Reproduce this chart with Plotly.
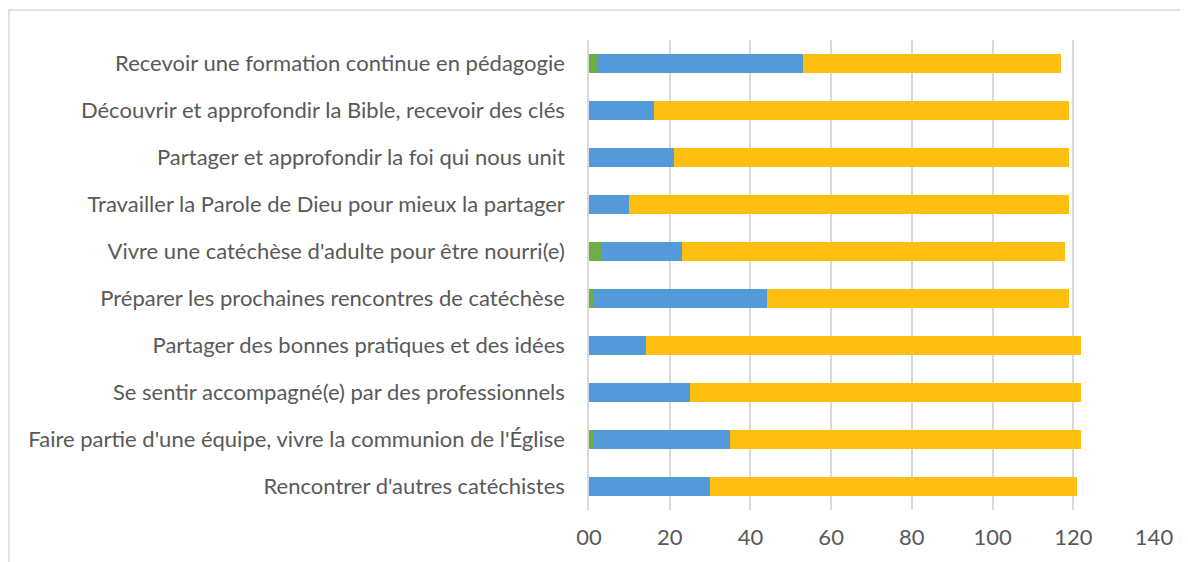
import plotly.graph_objects as go

categories = [
    "Recevoir une formation continue en pédagogie",
    "Découvrir et approfondir la Bible, recevoir des clés",
    "Partager et approfondir la foi qui nous unit",
    "Travailler la Parole de Dieu pour mieux la partager",
    "Vivre une catéchèse d'adulte pour être nourri(e)",
    "Préparer les prochaines rencontres de catéchèse",
    "Partager des bonnes pratiques et des idées",
    "Se sentir accompagné(e) par des professionnels",
    "Faire partie d'une équipe, vivre la communion de l'Église",
    "Rencontrer d'autres catéchistes",
]
green_vals = [2, 0, 0, 0, 3, 1, 0, 0, 1, 0]
blue_vals = [51, 16, 21, 10, 20, 43, 14, 25, 34, 30]
yellow_vals = [64, 103, 98, 109, 95, 75, 108, 97, 87, 91]

tick_vals = [0, 20, 40, 60, 80, 100, 120, 140]
tick_text = ["00", "20", "40", "60", "80", "100", "120", "140"]

FONT = "Lato"
TXT = "#595959"

fig = go.Figure()
for vals, col in [(green_vals, "#70ad47"), (blue_vals, "#5499d8"), (yellow_vals, "#fdc010")]:
    fig.add_trace(go.Bar(y=categories, x=vals, orientation="h",
                         marker=dict(color=col, line=dict(width=0)),
                         hoverinfo="x+y"))

# page body has an 8px offset
W, H = 1180, 554
L, R, T, B = 581, 34, 32, 52
pw, ph = W - L - R, H - T - B

fig.update_layout(
    width=W, height=H, barmode="stack", bargap=0.575,
    showlegend=False,
    paper_bgcolor="white", plot_bgcolor="white",
    margin=dict(l=L, r=R, t=T, b=B, autoexpand=False),
    font=dict(family=FONT, size=22, color=TXT),
    xaxis=dict(range=[0, 140], tickvals=tick_vals, ticktext=tick_text,
               showgrid=True, gridcolor="#d9d9d9", gridwidth=1.5,
               zeroline=False, showline=False, ticks="",
               tickfont=dict(family=FONT, size=22, color=TXT),
               ticklabelstandoff=12),
    yaxis=dict(autorange="reversed", showgrid=False, zeroline=False,
               showline=True, linecolor="#d9d9d9", linewidth=1.5, ticks="",
               tickfont=dict(family=FONT, size=22, color=TXT),
               ticklabelstandoff=18),
)

# outer chart-area border
fig.add_shape(type="rect", xref="paper", yref="paper",
              x0=(1 - L) / pw, x1=(W + 5 - L) / pw,
              y0=-(H + 5 - T - ph) / ph, y1=1 + (T - 2) / ph,
              line=dict(color="#d9d9d9", width=1.5), fillcolor="rgba(0,0,0,0)",
              layer="below")

fig.write_html("out.html")
